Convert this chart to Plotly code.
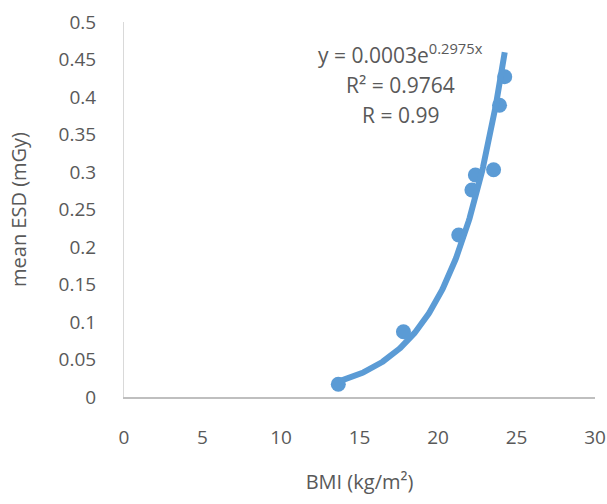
import numpy as np
import plotly.graph_objects as go

bmi = [13.65, 17.8, 21.32, 22.16, 22.38, 23.54, 23.92, 24.25]
esd = [0.017, 0.087, 0.216, 0.276, 0.296, 0.303, 0.389, 0.427]
eq_lines = ["y = 0.0003e<sup>0.2975x</sup>", "R² = 0.9764", "R = 0.99"]

# Exponential trendline (least squares on log y, as spreadsheet trendlines do)
b, ln_a = np.polyfit(np.array(bmi), np.log(np.array(esd)), 1)
a = np.exp(ln_a)
xt = np.linspace(min(bmi), max(bmi), 200)
yt = a * np.exp(b * xt)

blue = "#5B9BD5"
grey = "#595959"
font = "Open Sans"

fig = go.Figure()
fig.add_trace(go.Scatter(x=bmi, y=esd, mode="markers",
                         marker=dict(color=blue, size=15), showlegend=False))
fig.add_trace(go.Scatter(x=xt, y=yt, mode="lines",
                         line=dict(color=blue, width=6), showlegend=False))

eq_y = [0.915, 0.832, 0.752]
for txt, yy in zip(eq_lines, eq_y):
    fig.add_annotation(x=0.586, y=yy, xref="paper", yref="paper", showarrow=False,
                       yanchor="middle", text=txt,
                       font=dict(family=font, size=21, color=grey))

fig.update_layout(
    width=607, height=504,
    margin=dict(l=124, r=12, t=22, b=107),
    plot_bgcolor="white", paper_bgcolor="white",
    font=dict(family=font, size=19, color=grey),
    xaxis=dict(range=[0, 30], dtick=5, showgrid=False, zeroline=False,
               automargin=False,
               showline=True, linecolor="#BFBFBF", linewidth=2,
               ticks="outside", ticklen=22, tickcolor="rgba(0,0,0,0)",
               title=dict(text="BMI (kg/m²)", standoff=26,
                          font=dict(family=font, size=20, color=grey)),
               tickfont=dict(family=font, size=19, color=grey)),
    yaxis=dict(range=[0, 0.5], dtick=0.05, showgrid=False, zeroline=False,
               automargin=False,
               showline=True, linecolor="#D9D9D9", linewidth=1,
               ticks="outside", ticklen=23, tickcolor="rgba(0,0,0,0)",
               tickformat="~g",
               title=dict(text="mean ESD (mGy)", standoff=26,
                          font=dict(family=font, size=20, color=grey)),
               tickfont=dict(family=font, size=19, color=grey)),
)

fig.write_html("out.html",
               config={"displayModeBar": False},
               post_script="document.body.style.margin='0';document.body.style.overflow='hidden';")
